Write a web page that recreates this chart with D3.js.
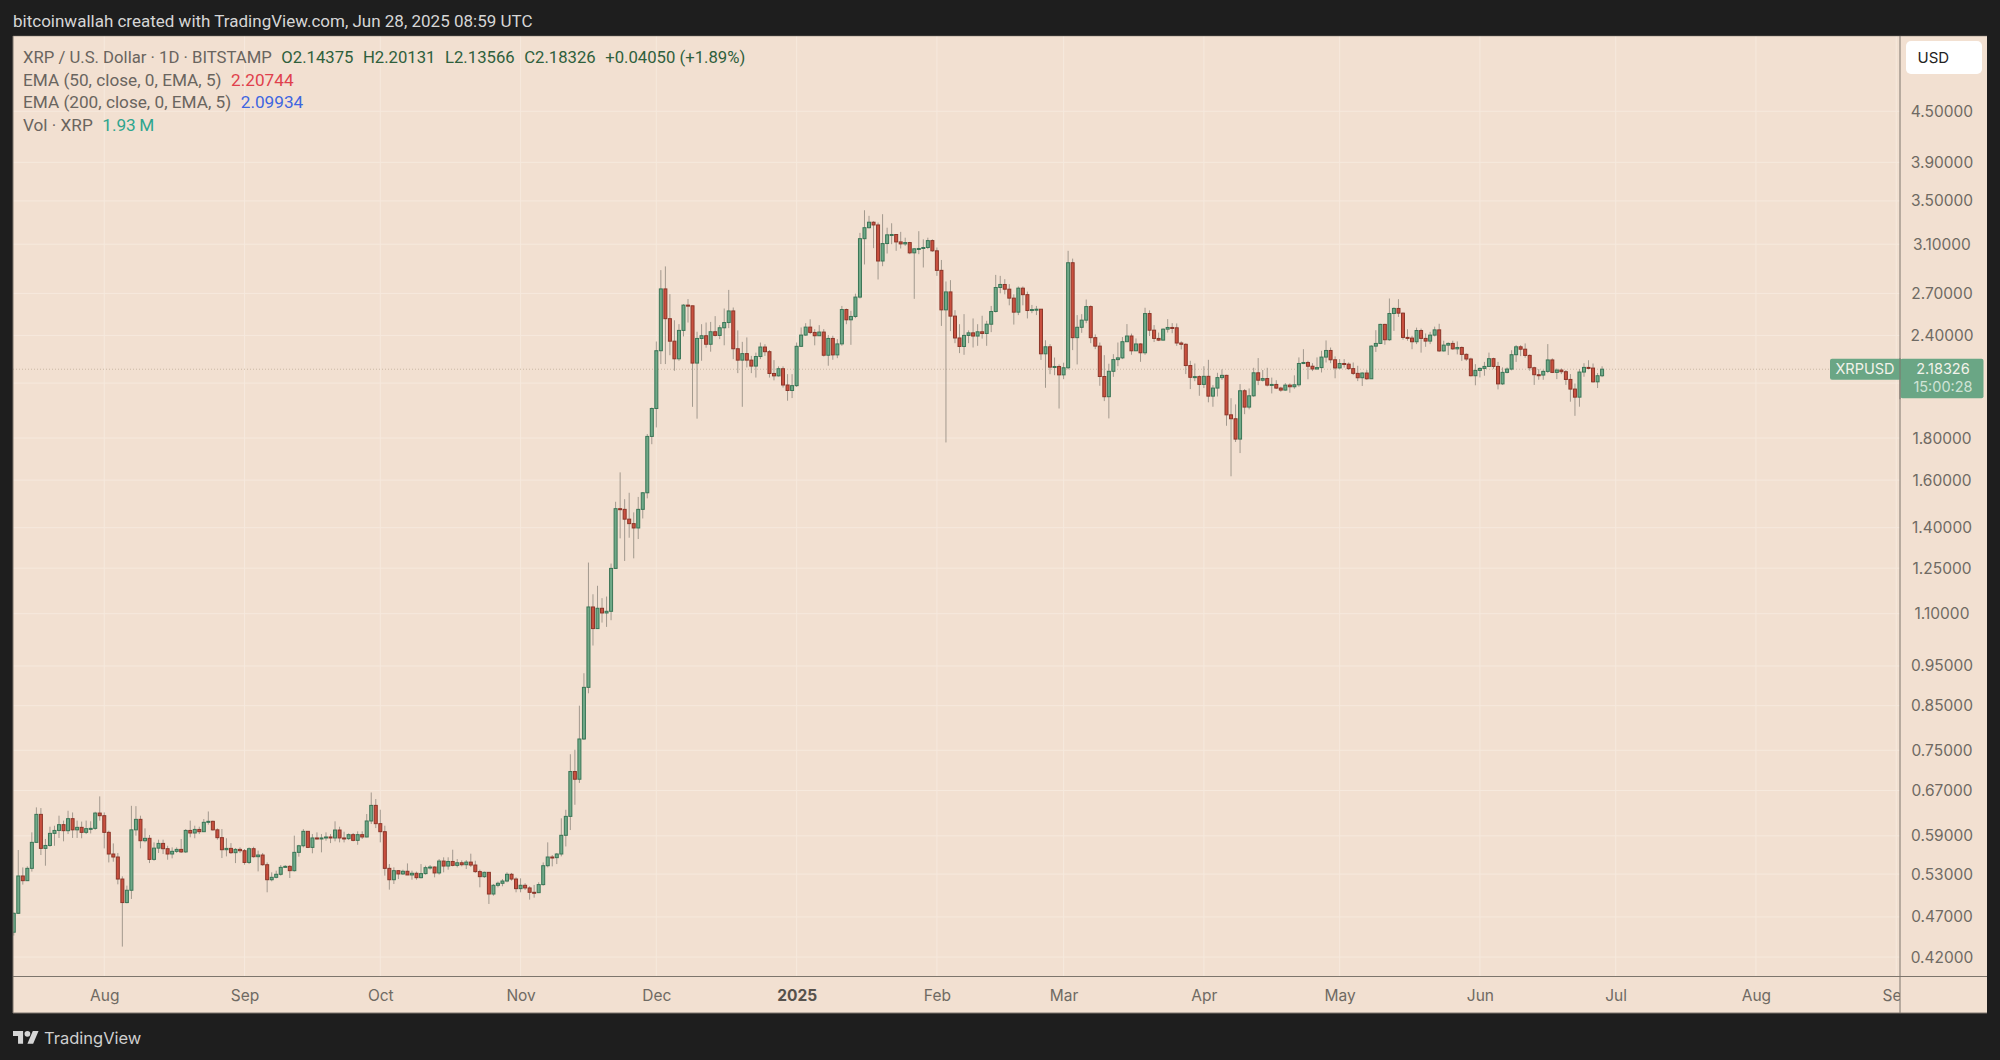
<!DOCTYPE html>
<html>
<head>
<meta charset="utf-8">
<title>XRP / U.S. Dollar</title>
<script src="https://cdn.jsdelivr.net/npm/d3@7"></script>
<style>
  html, body { margin: 0; padding: 0; background: #1e1e1e; }
  svg { display: block; font-family: Inter, "Noto Sans", sans-serif; }
  .price-axis text, .time-axis text { font-size: 15.5px; fill: #6f6a63; font-family: Inter, sans-serif; }
  .time-axis text.year { font-weight: 700; fill: #57524c; }
  .legend text { fill: #6a655f; font-family: Roboto, sans-serif; }
</style>
</head>
<body>
<div id="chart"></div>
<script>
const firstDay = "2024-07-12";
const firstOpen = 0.4503;

// daily candles, one value per day from firstDay
const closes = [
  .4748,.5272,.5203,.5386,.5793,.6266,.5696,.5743,.5941,.599,
  .6088,.5986,.6191,.600,.6042,.5958,.602,.6025,.6289,.6243,
  .5958,.5607,.556,.5227,.4893,.5065,.600,.6179,.582,.5859,
  .5523,.57,.5776,.5691,.5607,.5649,.568,.564,.599,.5947,
  .6007,.5969,.6128,.6145,.6,.587,.5675,.5696,.5628,.568,
  .5659,.5476,.5691,.5565,.5591,.5441,.5217,.5252,.5297,.5401,
  .5416,.5351,.5633,.5738,.5975,.5712,.5865,.5854,.5865,.5881,
  .5865,.5997,.5865,.5854,.592,.5826,.592,.5881,.6151,.6426,
  .6105,.5969,.5386,.5217,.5351,.5302,.5342,.5287,.5312,.5247,
  .5307,.5396,.5406,.5317,.5497,.5421,.5491,.5431,.5471,.5441,
  .5481,.5436,.5337,.5262,.5326,.5012,.5136,.5165,.5198,.5297,
  .5227,.5088,.5136,.5098,.5036,.5031,.5146,.5426,.556,.555,
  .5607,.5909,.6231,.7066,.6915,.7741,.8947,1.1209,1.055,1.1168,
  1.1022,1.1074,1.2489,1.4766,1.4738,1.4339,1.416,1.3989,1.4738,1.544,
  1.8083,1.9555,2.2995,2.7346,2.5156,2.3619,2.248,2.4343,2.6131,2.6082,
  2.2212,2.38,2.3981,2.3416,2.4252,2.4004,2.4523,2.4885,2.5709,2.3122,
  2.2397,2.2809,2.2397,2.2026,2.2624,2.3235,2.2933,2.1574,2.143,2.1862,
  2.0887,2.0568,2.085,2.328,2.4026,2.4569,2.4207,2.3981,2.423,2.2706,
  2.38,2.2727,2.3439,2.581,2.5078,2.5315,2.6727,3.1484,3.2467,3.2969,
  3.2718,2.9573,3.1057,3.1826,3.1854,3.1199,3.1028,3.1142,3.0258,3.06,
  3.0629,3.0714,3.1313,3.043,2.8807,2.5787,2.7117,2.5338,2.3832,2.3271,
  2.4004,2.4177,2.3961,2.4248,2.4134,2.477,2.5668,2.7455,2.7689,2.7325,
  2.6649,2.5621,2.7403,2.6909,2.5739,2.581,2.5834,2.2797,2.325,2.1961,
  2.2,2.149,2.1922,2.943,2.3853,2.4556,2.5054,2.6024,2.3853,2.3293,
  2.1392,2.0213,2.1706,2.243,2.2538,2.3583,2.3963,2.299,2.3435,2.2863,
  2.552,2.4358,2.3801,2.3689,2.4428,2.4544,2.4521,2.3498,2.3413,2.2059,
  2.1344,2.1383,2.092,2.1402,2.0245,2.0708,2.1325,2.146,1.9212,1.9001,
  1.7948,2.0553,1.9633,2.0264,2.1614,2.117,2.1267,2.0881,2.092,2.0708,
  2.0592,2.0881,2.0785,2.09,2.2186,2.2249,2.2016,2.1847,2.1932,2.2588,
  2.3011,2.2418,2.1911,2.2186,2.2143,2.1868,2.158,2.1317,2.16,2.1256,
  2.3293,2.347,2.4756,2.3715,2.5524,2.589,2.5549,2.3869,2.3825,2.3581,
  2.4335,2.3803,2.3625,2.4024,2.4379,2.2983,2.3359,2.347,2.3116,2.3205,
  2.2761,2.2468,2.1438,2.1761,2.1882,2.2004,2.2488,2.2004,2.0953,2.164,
  2.1842,2.2739,2.3249,2.3094,2.2694,2.1923,2.1499,2.1478,2.17,2.2408,
  2.164,2.1781,2.168,2.1216,2.065,2.0188,2.166,2.1943,2.1902,2.1074,
  2.14375,2.18326
];

const highs = [
  .476,.567,.540,.5416,.5958,.639,.6378,.5848,.6053,.607,
  .6243,.6157,.633,.630,.6157,.614,.6157,.6146,.6312,.659,
  .63,.5986,.5776,.5623,.5267,.5131,.6418,.6412,.6243,.6025,
  .5914,.5793,.5837,.5837,.5738,.5712,.5712,.5848,.6013,.6157,
  .607,.6053,.6185,.6317,.6157,.6025,.6013,.586,.5781,.5701,
  .5712,.5686,.5712,.5722,.566,.5623,.5476,.5326,.5351,.5436,
  .5436,.5436,.5903,.5753,.6013,.5969,.593,.5958,.593,.5958,
  .593,.6145,.6053,.5969,.5941,.5947,.5975,.5975,.6272,.6663,
  .6541,.6348,.607,.5451,.5401,.5351,.5366,.5461,.5351,.5337,
  .5451,.5426,.5436,.5416,.5528,.5555,.5555,.5675,.5528,.5507,
  .5512,.5612,.5502,.5366,.5337,.5326,.5155,.5189,.5227,.5326,
  .5317,.5252,.5237,.5165,.5122,.5141,.5179,.5476,.5793,.5591,
  .5623,.6197,.6348,.7417,.7511,.8499,.9308,1.2695,1.1615,1.1895,
  1.149,1.1542,1.266,1.5055,1.6348,1.5165,1.544,1.4614,1.5261,1.547,
  1.8203,1.9612,2.3597,2.8827,2.9127,2.6949,2.5043,2.4772,2.6205,2.6577,
  2.6082,2.4252,2.4772,2.4885,2.493,2.5337,2.4704,2.5883,2.7271,2.5957,
  2.4343,2.3574,2.3868,2.2665,2.2871,2.3529,2.3416,2.3036,2.2397,2.2006,
  2.2006,2.1533,2.1533,2.3529,2.4546,2.484,2.5111,2.4433,2.4704,2.4433,
  2.4026,2.3981,2.3755,2.6071,2.5881,2.5716,2.6987,3.1997,3.4097,3.3564,
  3.3062,3.2937,3.3721,3.2467,3.2875,3.1854,3.2091,3.157,3.1199,3.0657,
  3.2152,3.1427,3.157,3.1427,3.0714,2.9658,2.7923,2.8026,2.5763,2.477,
  2.5479,2.4343,2.5173,2.477,2.5362,2.5007,2.6071,2.8443,2.8365,2.8105,
  2.7715,2.6935,2.7533,2.7533,2.7143,2.6145,2.6071,2.5834,2.3681,2.3422,
  2.2559,2.2128,2.2236,3.043,2.9772,2.541,2.5479,2.6545,2.6118,2.4069,
  2.353,2.271,2.2171,2.2775,2.353,2.3894,2.4777,2.4126,2.3801,2.3477,
  2.5939,2.5753,2.4707,2.4196,2.4475,2.5125,2.4846,2.4823,2.3604,2.3477,
  2.2355,2.2186,2.146,2.2016,2.2418,2.0881,2.1614,2.1826,2.1498,2.0129,
  1.9782,2.0939,2.065,2.0688,2.192,2.2524,2.1784,2.192,2.1325,2.117,
  2.0785,2.0997,2.0978,2.146,2.2567,2.3096,2.2355,2.2207,2.2567,2.299,
  2.3667,2.3202,2.263,2.2461,2.2461,2.2249,2.2246,2.2044,2.164,2.1781,
  2.3359,2.4357,2.48,2.48,2.662,2.5963,2.6571,2.5597,2.4424,2.398,
  2.4534,2.4468,2.4135,2.4246,2.4601,2.48,2.3648,2.3537,2.3648,2.3603,
  2.3271,2.2827,2.2549,2.2145,2.1943,2.2286,2.2872,2.2549,2.2286,2.1943,
  2.1943,2.3027,2.3359,2.3359,2.347,2.2761,2.1983,2.1842,2.1801,2.3426,
  2.2509,2.1882,2.1882,2.1781,2.1539,2.0973,2.1842,2.2206,2.2388,2.2186,
  2.16,2.20131
];

const lows = [
  .4461,.4744,.5146,.5203,.5337,.5793,.5591,.5426,.5722,.5738,
  .5865,.581,.593,.5865,.5865,.586,.593,.594,.6,.6157,
  .5696,.5476,.5487,.515,.4325,.4884,.4943,.5903,.5696,.5793,
  .5466,.5502,.5623,.5607,.5518,.5539,.5623,.5623,.5623,.5876,
  .586,.593,.5969,.6088,.5986,.5837,.5544,.557,.5607,.5466,
  .5623,.5441,.5451,.555,.534,.5426,.5036,.5194,.5237,.5277,
  .5396,.5242,.5337,.5565,.5712,.5701,.5618,.5837,.5633,.582,
  .5781,.581,.5793,.5793,.5831,.581,.5754,.5848,.5876,.6099,
  .603,.5793,.5277,.5074,.5155,.5227,.5287,.5287,.5217,.5217,
  .5237,.5292,.5366,.5252,.5292,.5326,.5366,.5416,.5401,.5416,
  .5376,.5406,.5317,.5107,.5242,.4874,.4988,.5107,.5122,.5179,
  .5203,.5036,.5036,.5069,.4934,.4961,.5026,.5131,.5401,.5416,
  .5451,.557,.5727,.5997,.6437,.6843,.7719,.8799,1.006,1.056,
  1.073,1.06,1.08,1.2489,1.3587,1.2752,1.3612,1.2847,1.3562,1.4367,
  1.52,1.7693,1.8545,2.215,2.215,2.2706,2.1738,2.2356,2.3936,2.4885,
  1.9649,1.9006,2.2356,2.319,2.2933,2.3936,2.3755,2.3348,2.4501,2.2459,
  2.1595,1.9649,2.1944,2.1595,2.1327,2.2459,2.2665,2.1327,2.1162,2.1389,
  2.0737,1.9987,2.0137,2.0774,2.3235,2.3981,2.4094,2.3348,2.3981,2.2624,
  2.2047,2.2418,2.2521,2.3314,2.477,2.3379,2.5196,2.6623,2.9288,3.2404,
  3.0657,2.8079,2.9145,3.0199,3.1,3.043,3.0629,3.0857,3.0145,2.6597,
  3.0145,2.9041,3.0572,3.0344,2.8365,2.4651,1.778,2.4296,2.3487,2.284,
  2.2732,2.3487,2.3206,2.3314,2.3789,2.3314,2.4224,2.5597,2.7013,2.6935,
  2.6118,2.4746,2.541,2.6118,2.5173,2.555,2.541,2.2408,2.0724,2.1529,
  2.147,1.9555,2.1234,2.1824,2.3034,2.2128,2.4177,2.4841,2.3487,2.3099,
  2.0842,1.9966,1.902,2.1372,2.202,2.2461,2.3562,2.2736,2.299,2.2291,
  2.2736,2.3963,2.3562,2.3625,2.3667,2.4196,2.4149,2.3308,2.3075,2.1537,
  2.065,2.1113,2.0264,2.0708,1.9898,1.9651,2.0226,2.119,1.8632,1.6171,
  1.7802,1.7258,1.9247,1.951,2.0206,2.0881,2.1093,2.0804,2.0399,2.065,
  2.0496,2.0553,2.0438,2.0669,2.0785,2.2143,2.1228,2.172,2.1805,2.1635,
  2.2249,2.2207,2.1286,2.1868,2.1932,2.1784,2.1478,2.1115,2.0832,2.1196,
  2.1276,2.2916,2.3426,2.3381,2.3648,2.4313,2.5281,2.3715,2.3648,2.3094,
  2.3426,2.2872,2.3249,2.3426,2.3936,2.2916,2.2938,2.2717,2.3049,2.2761,
  2.2347,2.2347,2.1398,2.0872,2.1337,2.1438,2.1983,2.1862,2.063,2.0892,
  2.158,2.1761,2.2286,2.265,2.2549,2.1741,2.0892,2.1196,2.1196,2.16,
  2.16,2.1236,2.1539,2.0892,1.9931,1.9158,1.9655,2.1377,2.1842,2.1034,
  2.0711,2.13566
];

const lastPrice = 2.18326;
const priceTicks = [4.5, 3.9, 3.5, 3.1, 2.7, 2.4, 1.8, 1.6, 1.4, 1.25, 1.1, 0.95, 0.85, 0.75, 0.67, 0.59, 0.53, 0.47, 0.42];
// 2.1 has a grid line, its label sits behind the last price tag
const gridPrices = [...priceTicks, 2.1];
const monthTicks = ["2024-08-01","2024-09-01","2024-10-01","2024-11-01","2024-12-01","2025-01-01","2025-02-01","2025-03-01","2025-04-01","2025-05-01","2025-06-01","2025-07-01","2025-08-01","2025-09-01"];

const headerText = "bitcoinwallah created with TradingView.com, Jun 28, 2025 08:59 UTC";
const legendRows = [
  [["XRP / U.S. Dollar · 1D · BITSTAMP", "#6a655f"], ["O2.14375", "#2f5f3c"], ["H2.20131", "#2f5f3c"], ["L2.13566", "#2f5f3c"], ["C2.18326", "#2f5f3c"], ["+0.04050 (+1.89%)", "#2f5f3c"]],
  [["EMA (50, close, 0, EMA, 5)", "#6a655f"], ["2.20744", "#e0404c"]],
  [["EMA (200, close, 0, EMA, 5)", "#6a655f"], ["2.09934", "#3f66e0"]],
  [["Vol · XRP", "#6a655f"], ["1.93\u2009M", "#2fa58e"]]
];

const width = 2000, height = 1060;
const panel = { left: 13, top: 36, right: 1987, bottom: 1013 };
const plot = { left: 13, top: 36, right: 1900, bottom: 976.5 };

const bg = "#f2e0d1", gridColor = "#f6e9dd", frameColor = "#7d756c";
const upFill = "#6fa988", upLine = "#3a7556", downFill = "#c9503f", downLine = "#8c3629";
const tagColor = "#6aa685";

const parseDay = d3.utcParse("%Y-%m-%d");
const opens = [firstOpen, ...closes.slice(0, -1)];
const candles = closes.map((c, i) => ({
  date: d3.utcDay.offset(parseDay(firstDay), i),
  open: opens[i], high: highs[i], low: lows[i], close: c
}));

const x = d3.scaleUtc()
  .domain([new Date("2024-07-11T20:00:00Z"), new Date("2025-09-01T20:00:00Z")])
  .range([plot.left, plot.right]);
const y = d3.scaleLog()
  .domain([5.5578, 0.3977])
  .range([plot.top, plot.bottom]);

const svg = d3.select("#chart").append("svg")
  .attr("width", width).attr("height", height)
  .attr("viewBox", `0 0 ${width} ${height}`);

svg.append("defs").append("clipPath").attr("id", "plot-clip")
  .append("rect")
  .attr("x", plot.left).attr("y", plot.top)
  .attr("width", plot.right - plot.left).attr("height", plot.bottom - plot.top);

svg.append("text").attr("x", 13).attr("y", 26.5)
  .attr("font-family", "Roboto, sans-serif").attr("font-size", 17).attr("fill", "#d6d6d6")
  .text(headerText);

svg.append("rect")
  .attr("x", panel.left).attr("y", panel.top)
  .attr("width", panel.right - panel.left).attr("height", panel.bottom - panel.top)
  .attr("fill", bg);

// grid
const months = monthTicks.map(parseDay);
const grid = svg.append("g").attr("clip-path", "url(#plot-clip)")
  .attr("stroke", gridColor).attr("stroke-width", 1);
grid.selectAll("line.h").data(gridPrices).join("line").attr("class", "h")
  .attr("x1", plot.left).attr("x2", plot.right)
  .attr("y1", d => y(d)).attr("y2", d => y(d));
grid.selectAll("line.v").data(months).join("line").attr("class", "v")
  .attr("x1", d => x(d)).attr("x2", d => x(d))
  .attr("y1", plot.top).attr("y2", plot.bottom);

// last price line
svg.append("line")
  .attr("x1", plot.left).attr("x2", plot.right)
  .attr("y1", y(lastPrice)).attr("y2", y(lastPrice))
  .attr("stroke", "#c9b8a4").attr("stroke-width", 1).attr("stroke-dasharray", "1 2");

// candles
const candleG = svg.append("g").attr("clip-path", "url(#plot-clip)");
candleG.selectAll("line").data(candles).join("line")
  .attr("x1", d => x(d.date)).attr("x2", d => x(d.date))
  .attr("y1", d => y(d.high)).attr("y2", d => y(d.low))
  .attr("stroke", "#8f877d").attr("stroke-opacity", 0.8).attr("stroke-width", 1);
candleG.selectAll("rect").data(candles).join("rect")
  .attr("x", d => x(d.date) - 1.5).attr("width", 3)
  .attr("y", d => y(Math.max(d.open, d.close)))
  .attr("height", d => Math.max(1, Math.abs(y(d.open) - y(d.close))))
  .attr("fill", d => d.close >= d.open ? upFill : downFill)
  .attr("stroke", d => d.close >= d.open ? upLine : downLine)
  .attr("stroke-width", 1);

// time axis
const timeAxis = svg.append("g").attr("class", "time-axis")
  .attr("transform", `translate(0,${plot.bottom})`)
  .call(d3.axisBottom(x).tickValues(months).tickSize(0).tickPadding(13)
    .tickFormat(d => d.getUTCMonth() === 0 ? d3.utcFormat("%Y")(d) : d3.utcFormat("%b")(d)));
timeAxis.select(".domain").remove();
timeAxis.selectAll("text").classed("year", d => d.getUTCMonth() === 0);

// price axis, painted over the clipped end of the time axis
svg.append("rect")
  .attr("x", plot.right).attr("y", panel.top)
  .attr("width", panel.right - plot.right).attr("height", panel.bottom - panel.top)
  .attr("fill", bg);
const priceAxis = svg.append("g").attr("class", "price-axis")
  .attr("transform", `translate(${plot.right},0)`)
  .call(d3.axisRight(y).tickValues(priceTicks).tickSize(0).tickFormat(d3.format(".5f")));
priceAxis.select(".domain").remove();
priceAxis.selectAll("text").attr("x", 42).attr("text-anchor", "middle");

// frame lines
const frame = svg.append("g").attr("stroke", frameColor).attr("stroke-width", 1);
frame.append("line").attr("x1", panel.left).attr("x2", panel.right).attr("y1", plot.bottom).attr("y2", plot.bottom);
frame.append("line").attr("x1", plot.right).attr("x2", plot.right).attr("y1", panel.top).attr("y2", panel.bottom);
frame.append("line").attr("x1", panel.left).attr("x2", panel.right).attr("y1", panel.bottom).attr("y2", panel.bottom);
frame.append("line").attr("x1", panel.left).attr("x2", panel.left).attr("y1", panel.top).attr("y2", panel.bottom);
frame.append("line").attr("x1", panel.left).attr("x2", panel.right).attr("y1", panel.top).attr("y2", panel.top).attr("stroke-opacity", 0.5);

// USD button
svg.append("rect").attr("x", 1906).attr("y", 41).attr("width", 76).attr("height", 33).attr("rx", 5).attr("fill", "#ffffff");
svg.append("text").attr("x", 1917.5).attr("y", 62.5).attr("font-family", "Inter, sans-serif").attr("font-size", 15).attr("fill", "#222").text("USD");

// last price tag
const tagY = y(lastPrice);
svg.append("rect").attr("x", 1830).attr("y", tagY - 10.5).attr("width", 72).attr("height", 21).attr("rx", 2).attr("fill", tagColor);
svg.append("rect").attr("x", 1900.5).attr("y", tagY - 10.5).attr("width", 83).attr("height", 39.5).attr("rx", 2).attr("fill", tagColor);
svg.append("line").attr("x1", plot.right).attr("x2", plot.right).attr("y1", tagY - 11).attr("y2", tagY + 30).attr("stroke", frameColor);
const tagText = (tx, ty, txt, color) => svg.append("text").attr("x", tx).attr("y", ty)
  .attr("text-anchor", "middle").attr("font-family", "Inter, sans-serif").attr("font-size", 14.5)
  .attr("fill", color).text(txt);
tagText(1865, tagY + 5, "XRPUSD", "#f2f2ea");
tagText(1943, tagY + 5, d3.format(".5f")(lastPrice), "#f2f2ea");
tagText(1943, tagY + 23, "15:00:28", "#cfe3d6");

// legend
const legend = svg.append("g").attr("class", "legend");
legendRows.forEach((row, r) => {
  const t = legend.append("text").attr("x", 23).attr("y", 63 + r * 22.6)
    .style("font-size", r ? "17.2px" : "16.7px");
  row.forEach((part, i) => {
    t.append("tspan").attr("dx", i ? 9.5 : 0).style("fill", part[1]).text(part[0]);
  });
});

// TradingView mark
const logo = svg.append("g").attr("transform", "translate(13,1028) scale(0.72)").attr("fill", "#d6d6d6");
logo.append("path").attr("d", "M14 22H7V11H0V4h14v18zM28 22h-8l7.5-18h8L28 22z");
logo.append("circle").attr("cx", 20).attr("cy", 8).attr("r", 4);
svg.append("text").attr("x", 44).attr("y", 1043.5)
  .attr("font-family", "Inter, sans-serif").attr("font-size", 16.5)
  .attr("fill", "#cfcfcf").text("TradingView");
</script>
</body>
</html>
